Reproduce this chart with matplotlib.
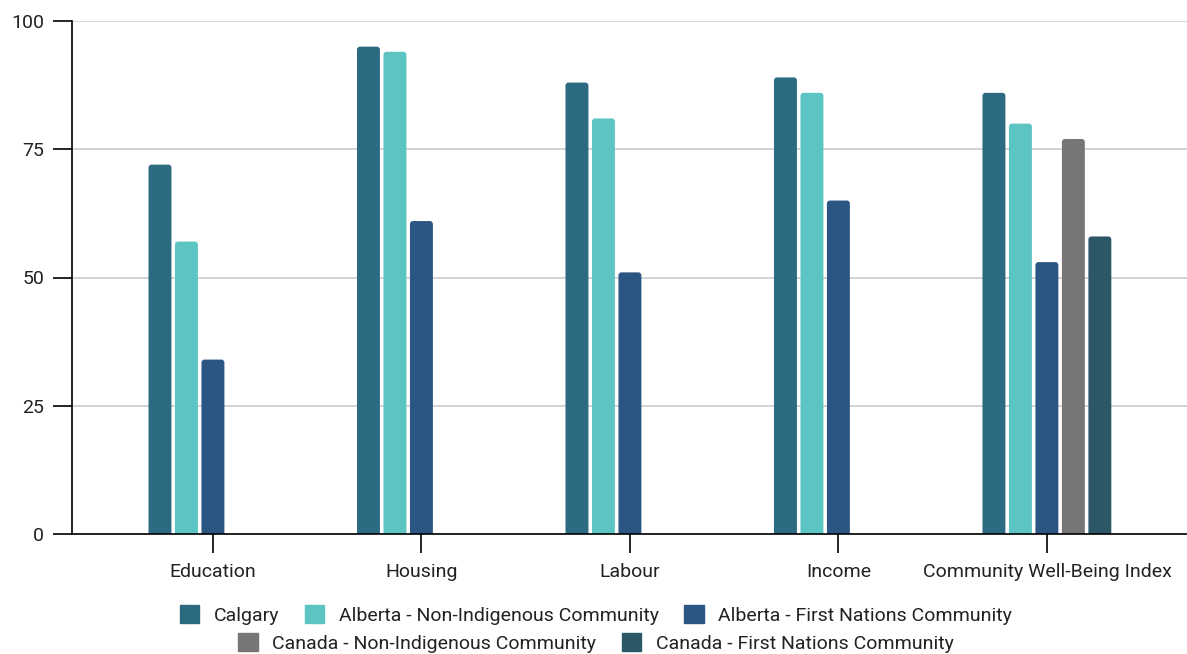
import matplotlib
matplotlib.use("Agg")
import matplotlib.pyplot as plt
from matplotlib.patches import Patch, FancyBboxPatch

plt.rcParams["font.family"] = ["Roboto", "DejaVu Sans"]

categories = ["Education", "Housing", "Labour", "Income", "Community Well-Being Index"]
series_names = [
    "Calgary",
    "Alberta - Non-Indigenous Community",
    "Alberta - First Nations Community",
    "Canada - Non-Indigenous Community",
    "Canada - First Nations Community",
]
calgary = [72, 95, 88, 89, 86]
alberta_non_indigenous = [57, 94, 81, 86, 80]
alberta_first_nations = [34, 61, 51, 65, 53]
canada_non_indigenous = [None, None, None, None, 77]
canada_first_nations = [None, None, None, None, 58]
colors = ["#2c6a82", "#5cc4c2", "#2b5583", "#767676", "#2b5767"]

series = [calgary, alberta_non_indigenous, alberta_first_nations,
          canada_non_indigenous, canada_first_nations]

fig = plt.figure(figsize=(11.87, 6.54), dpi=100)
ax = fig.add_axes([72 / 1187, 1 - 534 / 654, 1 - 72 / 1187, (534 - 21) / 654])
ax.set_xlim(-0.676, 4.672)
ax.set_ylim(0, 100)

slot = 0.127
bar_w = 0.110
# rounded bar tops: radius in x units, aspect converts it to y units
radius = 3 / 208.5
aspect = (100 / 513) * 208.5
for i, (vals, col) in enumerate(zip(series, colors)):
    xs = [c + (i - 2) * slot for c, v in enumerate(vals) if v is not None]
    ys = [v for v in vals if v is not None]
    bars = ax.bar(xs, ys, width=bar_w, color=col, zorder=3)
    for b in bars:
        b.set_visible(False)
        ax.add_patch(FancyBboxPatch(
            (b.get_x(), -3), b.get_width(), b.get_height() + 3,
            boxstyle=f"round,pad=0,rounding_size={radius}",
            mutation_aspect=aspect, facecolor=col, edgecolor="none",
            zorder=3, clip_on=True))

ax.set_yticks([0, 25, 50, 75, 100])
ax.set_xticks(range(len(categories)))
ax.set_xticklabels(categories)
ax.grid(axis="y", color="#cccccc", linewidth=1.2, zorder=0)
for s in ["top", "right"]:
    ax.spines[s].set_visible(False)
for s in ["left", "bottom"]:
    ax.spines[s].set_color("black")
    ax.spines[s].set_linewidth(1.2)
    ax.spines[s].set_zorder(4)
ax.tick_params(axis="both", length=14, width=1.2, colors="black",
               labelcolor="#222222", labelsize=14)
ax.tick_params(axis="y", pad=6)
ax.tick_params(axis="x", pad=7)

handles = [Patch(facecolor=c, edgecolor=c) for c in colors]
leg_kw = dict(loc="center", frameon=False, fontsize=14, handlelength=1.0,
              handleheight=1.0, handletextpad=0.75, columnspacing=1.3,
              labelcolor="#222222", borderpad=0)
fig.legend(handles[:3], series_names[:3], ncol=3,
           bbox_to_anchor=(596 / 1187, 1 - 615 / 654), **leg_kw)
fig.legend(handles[3:], series_names[3:], ncol=2,
           bbox_to_anchor=(596 / 1187, 1 - 643 / 654), **leg_kw)

fig.savefig("out.png", dpi=100)
